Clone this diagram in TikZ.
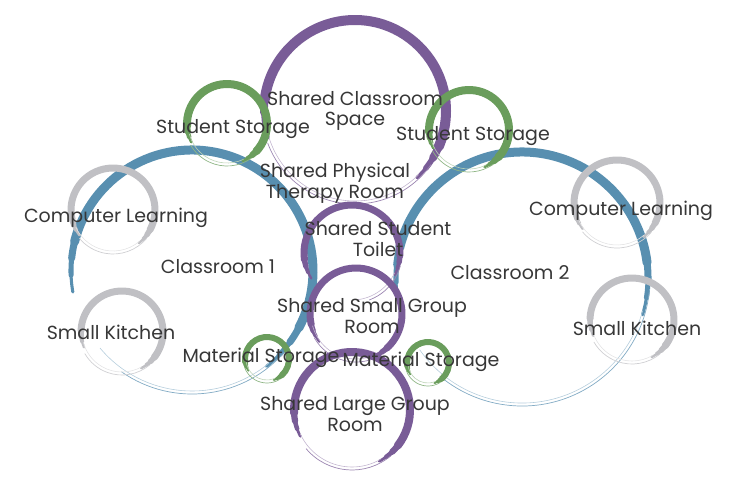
\documentclass[tikz,border=0pt]{standalone}
\usepackage{fontspec}
\setmainfont{Poppins}
\definecolor{roomblue}{RGB}{88,143,176}
\definecolor{sharedpurple}{RGB}{121,92,151}
\definecolor{storagegreen}{RGB}{106,157,92}
\definecolor{nookgray}{RGB}{192,192,196}
\definecolor{labelgray}{RGB}{55,55,55}
\tikzset{
  roomlabel/.style={text=labelgray, font=\fontsize{16.2}{17.5}\selectfont, align=center, inner sep=0pt},
}
\begin{document}
\begin{tikzpicture}[x=0.03cm, y=-0.03cm]
  \useasboundingbox (0,0) rectangle (737,501);
  % brush circles: centre x/y, radius, width, thick from/to, thin to, colour
  \foreach \cx/\cy/\r/\w/\s/\e/\f/\col in {
      192/271/121/9/-178/40/125/roomblue,
      522/278/126/9/-178/5/130/roomblue,
      355/111/91/10/-185/35/160/sharedpurple,
      352/253/48/7/-200/15/70/sharedpurple,
      356/314/46/7/-205/60/150/sharedpurple,
      352/410/58/8/-195/50/140/sharedpurple,
      227/124/40/8/-195/55/150/storagegreen,
      469/130/40/8/-195/55/150/storagegreen,
      267/359/22/6/-200/60/160/storagegreen,
      428/363/21/6/-200/60/160/storagegreen,
      113/210/42/7/-205/40/140/nookgray,
      617/203/43/7/-205/40/140/nookgray,
      122/332/41/7/-190/50/150/nookgray,
      632/320/42/7/-190/50/150/nookgray} {
    \foreach \k in {0,1,2,3} {
      \draw[\col, line width=\w*0.3mm*(1-0.22*\k), line cap=round]
        ([shift={(\cx,\cy)}]\s+12-8*\k:\r) arc[start angle=\s+12-8*\k, end angle=\e-12+8*\k, radius=\r];
    }
    \draw[\col!75, line width=0.6pt]
      ([shift={(\cx,\cy)}]\e:\r+2) arc[start angle=\e, end angle=\f, radius=\r+2];
    \draw[\col!45, line width=0.5pt]
      ([shift={(\cx,\cy)}]\e+10:\r-1) arc[start angle=\e+10, end angle=\f+15, radius=\r-1];
  }
  % labels
  \node[roomlabel] (space) at (355,111) {Shared Classroom\\Space};
  \node[roomlabel] (store1) at (233,129) {Student Storage};
  \node[roomlabel] (store2) at (473,136) {Student Storage};
  \node[roomlabel] (ptroom) at (335,183) {Shared Physical\\Therapy Room};
  \node[roomlabel] (comp1) at (116,218) {Computer Learning};
  \node[roomlabel] (comp2) at (621,211) {Computer Learning};
  \node[roomlabel] (toilet) at (378,239) {Shared Student\\Toilet};
  \node[roomlabel] (cls1) at (218,267) {Classroom 1};
  \node[roomlabel] (cls2) at (510,273) {Classroom 2};
  \node[roomlabel] (smallgrp) at (372,316) {Shared Small Group\\Room};
  \node[roomlabel] (kitch1) at (111,332) {Small Kitchen};
  \node[roomlabel] (kitch2) at (637,328) {Small Kitchen};
  \node[roomlabel] (matl1) at (261,358) {Material Storage};
  \node[roomlabel] (matl2) at (421,362) {Material Storage};
  \node[roomlabel] (largegrp) at (355,414) {Shared Large Group\\Room};
\end{tikzpicture}
\end{document}
